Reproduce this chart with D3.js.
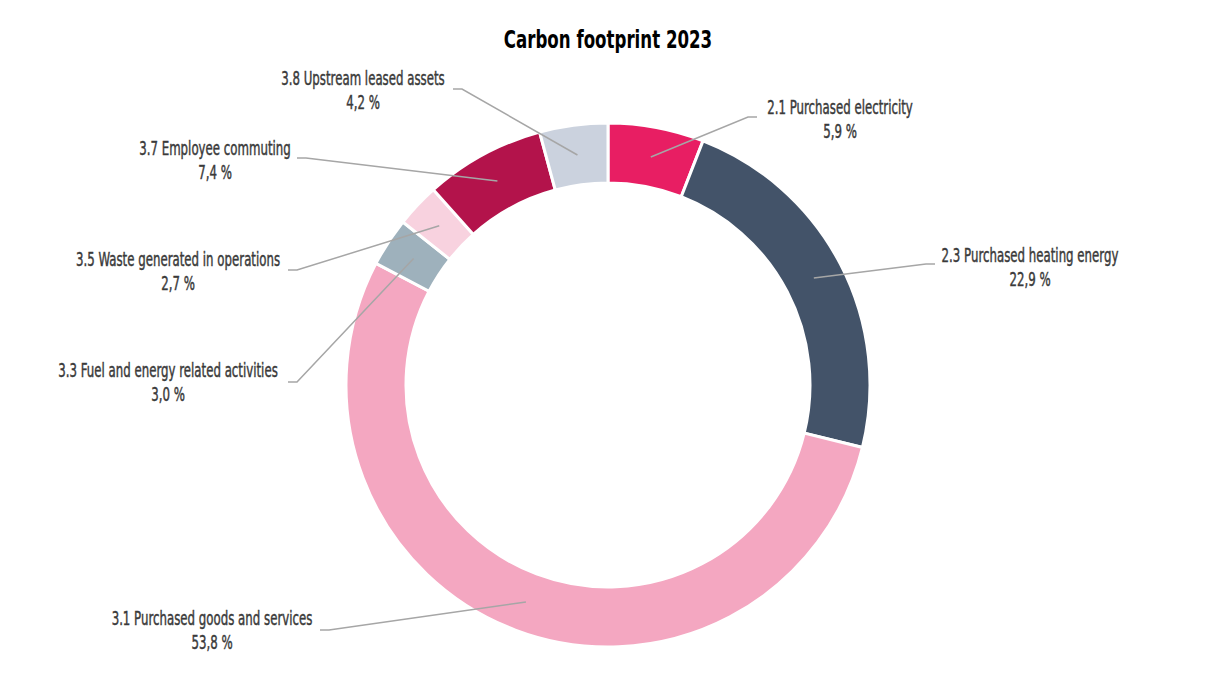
<!DOCTYPE html>
<html>
<head>
<meta charset="utf-8">
<script src="https://cdn.jsdelivr.net/npm/d3@7"></script>
<style>
  body { margin: 0; background: #fff; }
  text { font-family: "DejaVu Sans Condensed", "Liberation Sans Narrow", sans-serif; }
</style>
</head>
<body>
<script>
// data
var categories = ["2.1 Purchased electricity", "2.3 Purchased heating energy",
                  "3.1 Purchased goods and services", "3.3 Fuel and energy related activities",
                  "3.5 Waste generated in operations", "3.7 Employee commuting",
                  "3.8 Upstream leased assets"];
var shares = [5.9, 22.9, 53.8, 3.0, 2.7, 7.4, 4.2];
var colours = ["#E81E63", "#435369", "#F4A7C1", "#9EB1BC", "#F8D2DF", "#B3134B", "#CBD2DE"];

// label boxes (text centre x, first line y, leader end x/y) - placed by hand like the original
var labelPos = [
  {x: 840, y: 107, lx: 757, ly: 117},
  {x: 1030, y: 255, lx: 935, ly: 264},
  {x: 212, y: 618, lx: 320, ly: 630},
  {x: 168, y: 370, lx: 288, ly: 382},
  {x: 178, y: 259, lx: 288, ly: 270},
  {x: 215, y: 148, lx: 297, ly: 158},
  {x: 363, y: 78, lx: 453, ly: 89}
];

var w = 1216, h = 684;
var cx = 608, cy = 385;
var rOut = 262, rIn = 202;
var squeeze = 0.69;   // no condensed face installed, so squash the text

var svg = d3.select("body").append("svg")
    .attr("width", w)
    .attr("height", h);

svg.append("g")
    .attr("transform", "translate(" + (w / 2) + ",0) scale(0.74,1)")
  .append("text")
    .attr("x", 0)
    .attr("y", 48)
    .attr("text-anchor", "middle")
    .attr("font-size", "25px")
    .attr("font-weight", "bold")
    .attr("fill", "#000")
    .text("Carbon footprint 2023");

var pie = d3.pie().sort(null).value(function(d) { return d; });
var arcs = pie(shares);

var arc = d3.arc().innerRadius(rIn).outerRadius(rOut);
var midArc = d3.arc().innerRadius((rIn + rOut) / 2).outerRadius((rIn + rOut) / 2);

var g = svg.append("g").attr("transform", "translate(" + cx + "," + cy + ")");

g.selectAll("path")
    .data(arcs)
    .enter()
    .append("path")
    .attr("d", arc)
    .attr("fill", function(d, i) { return colours[i]; })
    .attr("stroke", "#fff")
    .attr("stroke-width", 3);

// leader lines
svg.selectAll("polyline.leader")
    .data(arcs)
    .enter()
    .append("polyline")
    .attr("class", "leader")
    .attr("fill", "none")
    .attr("stroke", "#A6A6A6")
    .attr("stroke-width", 1.5)
    .attr("points", function(d, i) {
        var c = midArc.centroid(d);
        var p = labelPos[i];
        var side = (p.lx < cx) ? 1 : -1;
        return [[cx + c[0], cy + c[1]], [p.lx + side * 9, p.ly], [p.lx, p.ly]].join(" ");
    });

var labels = svg.selectAll("g.lbl")
    .data(arcs)
    .enter()
    .append("g")
    .attr("class", "lbl")
    .attr("transform", function(d, i) { return "translate(" + labelPos[i].x + ",0) scale(" + squeeze + ",1)"; })
  .append("text")
    .attr("text-anchor", "middle")
    .attr("font-size", "19px")
    .attr("fill", "#3A3A3A")
    .attr("stroke", "#3A3A3A")
    .attr("stroke-width", 0.45);

labels.append("tspan")
    .attr("x", 0)
    .attr("y", function(d, i) { return labelPos[i].y + 7; })
    .text(function(d, i) { return categories[i]; });

labels.append("tspan")
    .attr("x", 0)
    .attr("y", function(d, i) { return labelPos[i].y + 31; })
    .text(function(d) { return d3.format(".1f")(d.value).replace(".", ",") + " %"; });
</script>
</body>
</html>
